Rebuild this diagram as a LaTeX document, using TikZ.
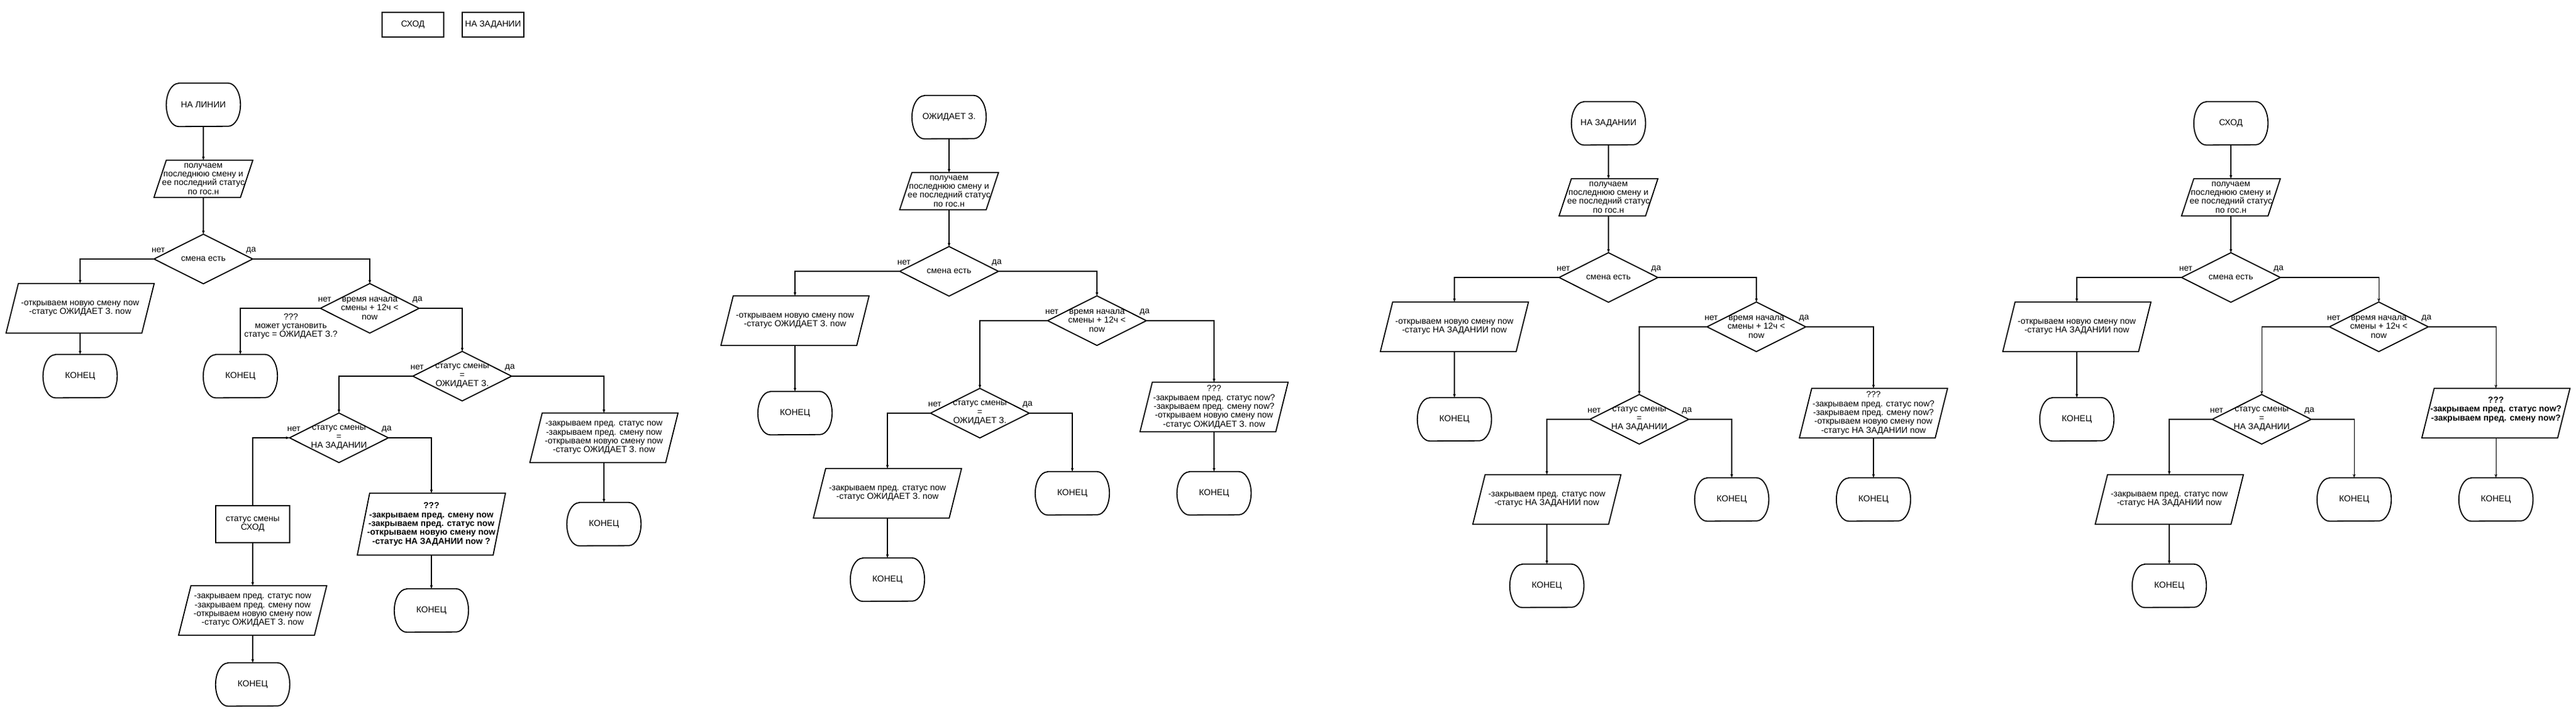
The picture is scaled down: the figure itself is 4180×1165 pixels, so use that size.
\documentclass[tikz,border=0pt]{standalone}
\usepackage{fontspec}
\setmainfont{Liberation Sans}
\usetikzlibrary{arrows.meta}
\newcommand\fsz{\fontsize{14pt}{14.4pt}\selectfont}
\tikzset{
  shp/.style={line width=1.8pt, line join=miter},
  conn/.style={line width=1.1pt, -{Stealth[length=6pt,width=4.5pt]}},
  base/.style={inner sep=0pt, align=center, font=\fsz},
  termn/.style={base, minimum width=120pt, minimum height=70pt},
  paran/.style={base, minimum width=240pt, minimum height=80pt},
  dian/.style={base, minimum width=160pt, minimum height=80pt},
  rectn/.style={base, draw, shp, minimum width=120pt, minimum height=60pt},
  smallpara/.style={minimum width=160pt, minimum height=60pt},
  boldpara/.style={font=\fsz\bfseries},
  lbl/.style={base},
}
\newcommand\mkTerm[3]{%
  \node[termn] (#1) at (#2) {#3};
  \draw[shp] ([xshift=20pt]#1.north west) -- ([xshift=-20pt]#1.north east)
    arc[start angle=90,end angle=-90,x radius=20pt,y radius=35pt]
    -- ([xshift=20pt]#1.south west)
    arc[start angle=270,end angle=90,x radius=20pt,y radius=35pt] -- cycle;}
\newcommand\mkPara[4][]{%
  \node[paran,#1] (#2) at (#3) {#4};
  \draw[shp] ([xshift=20pt]#2.north west) -- (#2.north east)
    -- ([xshift=-20pt]#2.south east) -- (#2.south west) -- cycle;}
\newcommand\mkDia[3]{%
  \node[dian] (#1) at (#2) {#3};
  \draw[shp] (#1.north) -- (#1.east) -- (#1.south) -- (#1.west) -- cycle;}
\newcommand\mkYN[1]{%
  \node[lbl,anchor=east] at ([xshift=18pt,yshift=14pt]#1.west) {нет};
  \node[lbl,anchor=west] at ([xshift=-11pt,yshift=14pt]#1.east) {да};}
\begin{document}
\begin{tikzpicture}[x=1pt,y=-1pt]
\fill[white] (0,0) rectangle (4180,1165);
\useasboundingbox (0,0) rectangle (4180,1165);

% legend
\node[base, draw, shp, minimum width=100pt, minimum height=40pt] (leg1) at (670,40) {СХОД};
\node[base, draw, shp, minimum width=100pt, minimum height=40pt] (leg2) at (800,40) {НА ЗАДАНИИ};

% ===== chart 1 =====
\mkTerm{a1}{330,170}{НА ЛИНИИ}
\mkPara[smallpara]{a2}{330,290}{получаем\\последнюю смену и\\ее последний статус\\по гос.н}
\mkDia{a3}{330,420}{смена есть}
\mkPara{a4}{130,500}{-открываем новую смену now\\-статус ОЖИДАЕТ З. now}
\mkTerm{a5}{130,610}{КОНЕЦ}
\mkDia{a6}{600,500}{время начала\\смены + 12ч <\\now}
\node[lbl] (a7) at (472,529) {???\\может установить\\статус = ОЖИДАЕТ З.?};
\mkTerm{a8}{390,610}{КОНЕЦ}
\mkDia{a9}{750,610}{статус смены\\=\\ОЖИДАЕТ З.}
\mkDia{a10}{550,710}{статус смены\\=\\НА ЗАДАНИИ}
\node[rectn] (a11) at (410,850) {статус смены\\СХОД};
\mkPara{a12}{410,990}{-закрываем пред. статус now\\-закрываем пред. смену now\\-открываем новую смену now\\-статус ОЖИДАЕТ З. now}
\mkTerm{a13}{410,1110}{КОНЕЦ}
\mkPara[boldpara,minimum height=100pt]{a14}{700,850}{???\\-закрываем пред. смену now\\-закрываем пред. статус now\\-открываем новую смену now\\-статус НА ЗАДАНИИ now ?}
\mkTerm{a15}{700,990}{КОНЕЦ}
\mkPara{a16}{980,710}{-закрываем пред. статус now\\-закрываем пред. смену now\\-открываем новую смену now\\-статус ОЖИДАЕТ З. now}
\mkTerm{a17}{980,850}{КОНЕЦ}

\draw[conn] (a1.south) -- (a2.north);
\draw[conn] (a2.south) -- (a3.north);
\draw[conn] (a3.west) -| (a4.north);
\draw[conn] (a3.east) -| (a6.north);
\draw[conn] (a4.south) -- (a5.north);
\draw[conn] (a6.west) -| (a8.north);
\draw[conn] (a6.east) -| (a9.north);
\draw[conn] (a9.west) -| (a10.north);
\draw[conn] (a9.east) -| (a16.north);
\draw[conn] (a11.north) |- (a10.west);
\draw[conn] (a10.east) -| (a14.north);
\draw[conn] (a11.south) -- (a12.north);
\draw[conn] (a12.south) -- (a13.north);
\draw[conn] (a14.south) -- (a15.north);
\draw[conn] (a16.south) -- (a17.north);
\mkYN{a3}\mkYN{a6}\mkYN{a9}\mkYN{a10}

% ===== chart 2 =====
\mkTerm{b1}{1540,190}{ОЖИДАЕТ З.}
\mkPara[smallpara]{b2}{1540,310}{получаем\\последнюю смену и\\ее последний статус\\по гос.н}
\mkDia{b3}{1540,440}{смена есть}
\mkPara{b4}{1290,520}{-открываем новую смену now\\-статус ОЖИДАЕТ З. now}
\mkTerm{b5}{1290,670}{КОНЕЦ}
\mkDia{b6}{1780,520}{время начала\\смены + 12ч <\\now}
\mkDia{b7}{1590,670}{статус смены\\=\\ОЖИДАЕТ З.}
\mkPara{b8}{1440,800}{-закрываем пред. статус now\\-статус ОЖИДАЕТ З. now}
\mkTerm{b9}{1440,940}{КОНЕЦ}
\mkTerm{b10}{1740,800}{КОНЕЦ}
\mkPara{b11}{1970,660}{???\\-закрываем пред. статус now?\\-закрываем пред. смену now?\\-открываем новую смену now\\-статус ОЖИДАЕТ З. now}
\mkTerm{b12}{1970,800}{КОНЕЦ}

\draw[conn] (b1.south) -- (b2.north);
\draw[conn] (b2.south) -- (b3.north);
\draw[conn] (b3.west) -| (b4.north);
\draw[conn] (b3.east) -| (b6.north);
\draw[conn] (b4.south) -- (b5.north);
\draw[conn] (b6.west) -| (b7.north);
\draw[conn] (b6.east) -| (b11.north);
\draw[conn] (b7.west) -| (b8.north);
\draw[conn] (b7.east) -| (b10.north);
\draw[conn] (b8.south) -- (b9.north);
\draw[conn] (b11.south) -- (b12.north);
\mkYN{b3}\mkYN{b6}\mkYN{b7}

% ===== chart 3 =====
\mkTerm{c1}{2610,200}{НА ЗАДАНИИ}
\mkPara[smallpara]{c2}{2610,320}{получаем\\последнюю смену и\\ее последний статус\\по гос.н}
\mkDia{c3}{2610,450}{смена есть}
\mkPara{c4}{2360,530}{-открываем новую смену now\\-статус НА ЗАДАНИИ now}
\mkTerm{c5}{2360,680}{КОНЕЦ}
\mkDia{c6}{2850,530}{время начала\\смены + 12ч <\\now}
\mkDia{c7}{2660,680}{статус смены\\=\\НА ЗАДАНИИ}
\mkPara{c8}{2510,810}{-закрываем пред. статус now\\-статус НА ЗАДАНИИ now}
\mkTerm{c9}{2510,950}{КОНЕЦ}
\mkTerm{c10}{2810,810}{КОНЕЦ}
\mkPara{c11}{3040,670}{???\\-закрываем пред. статус now?\\-закрываем пред. смену now?\\-открываем новую смену now\\-статус НА ЗАДАНИИ now}
\mkTerm{c12}{3040,810}{КОНЕЦ}

\draw[conn] (c1.south) -- (c2.north);
\draw[conn] (c2.south) -- (c3.north);
\draw[conn] (c3.west) -| (c4.north);
\draw[conn] (c3.east) -| (c6.north);
\draw[conn] (c4.south) -- (c5.north);
\draw[conn] (c6.west) -| (c7.north);
\draw[conn] (c6.east) -| (c11.north);
\draw[conn] (c7.west) -| (c8.north);
\draw[conn] (c7.east) -| (c10.north);
\draw[conn] (c8.south) -- (c9.north);
\draw[conn] (c11.south) -- (c12.north);
\mkYN{c3}\mkYN{c6}\mkYN{c7}

% ===== chart 4 =====
\mkTerm{d1}{3620,200}{СХОД}
\mkPara[smallpara]{d2}{3620,320}{получаем\\последнюю смену и\\ее последний статус\\по гос.н}
\mkDia{d3}{3620,450}{смена есть}
\mkPara{d4}{3370,530}{-открываем новую смену now\\-статус НА ЗАДАНИИ now}
\mkTerm{d5}{3370,680}{КОНЕЦ}
\mkDia{d6}{3860,530}{время начала\\смены + 12ч <\\now}
\mkDia{d7}{3670,680}{статус смены\\=\\НА ЗАДАНИИ}
\mkPara{d8}{3520,810}{-закрываем пред. статус now\\-статус НА ЗАДАНИИ now}
\mkTerm{d9}{3520,950}{КОНЕЦ}
\mkTerm{d10}{3820,810}{КОНЕЦ}
\mkPara[boldpara]{d11}{4050,670}{???\\-закрываем пред. статус now?\\-закрываем пред. смену now?\\\mbox{}}
\mkTerm{d12}{4050,810}{КОНЕЦ}

\draw[conn] (d1.south) -- (d2.north);
\draw[conn] (d2.south) -- (d3.north);
\draw[conn] (d3.west) -| (d4.north);
\draw[conn] (d3.east) -| (d6.north);
\draw[conn] (d4.south) -- (d5.north);
\draw[conn] (d6.west) -| (d7.north);
\draw[conn] (d6.east) -| (d11.north);
\draw[conn] (d7.west) -| (d8.north);
\draw[conn] (d7.east) -| (d10.north);
\draw[conn] (d8.south) -- (d9.north);
\draw[conn] (d11.south) -- (d12.north);
\mkYN{d3}\mkYN{d6}\mkYN{d7}
\end{tikzpicture}
\end{document}
